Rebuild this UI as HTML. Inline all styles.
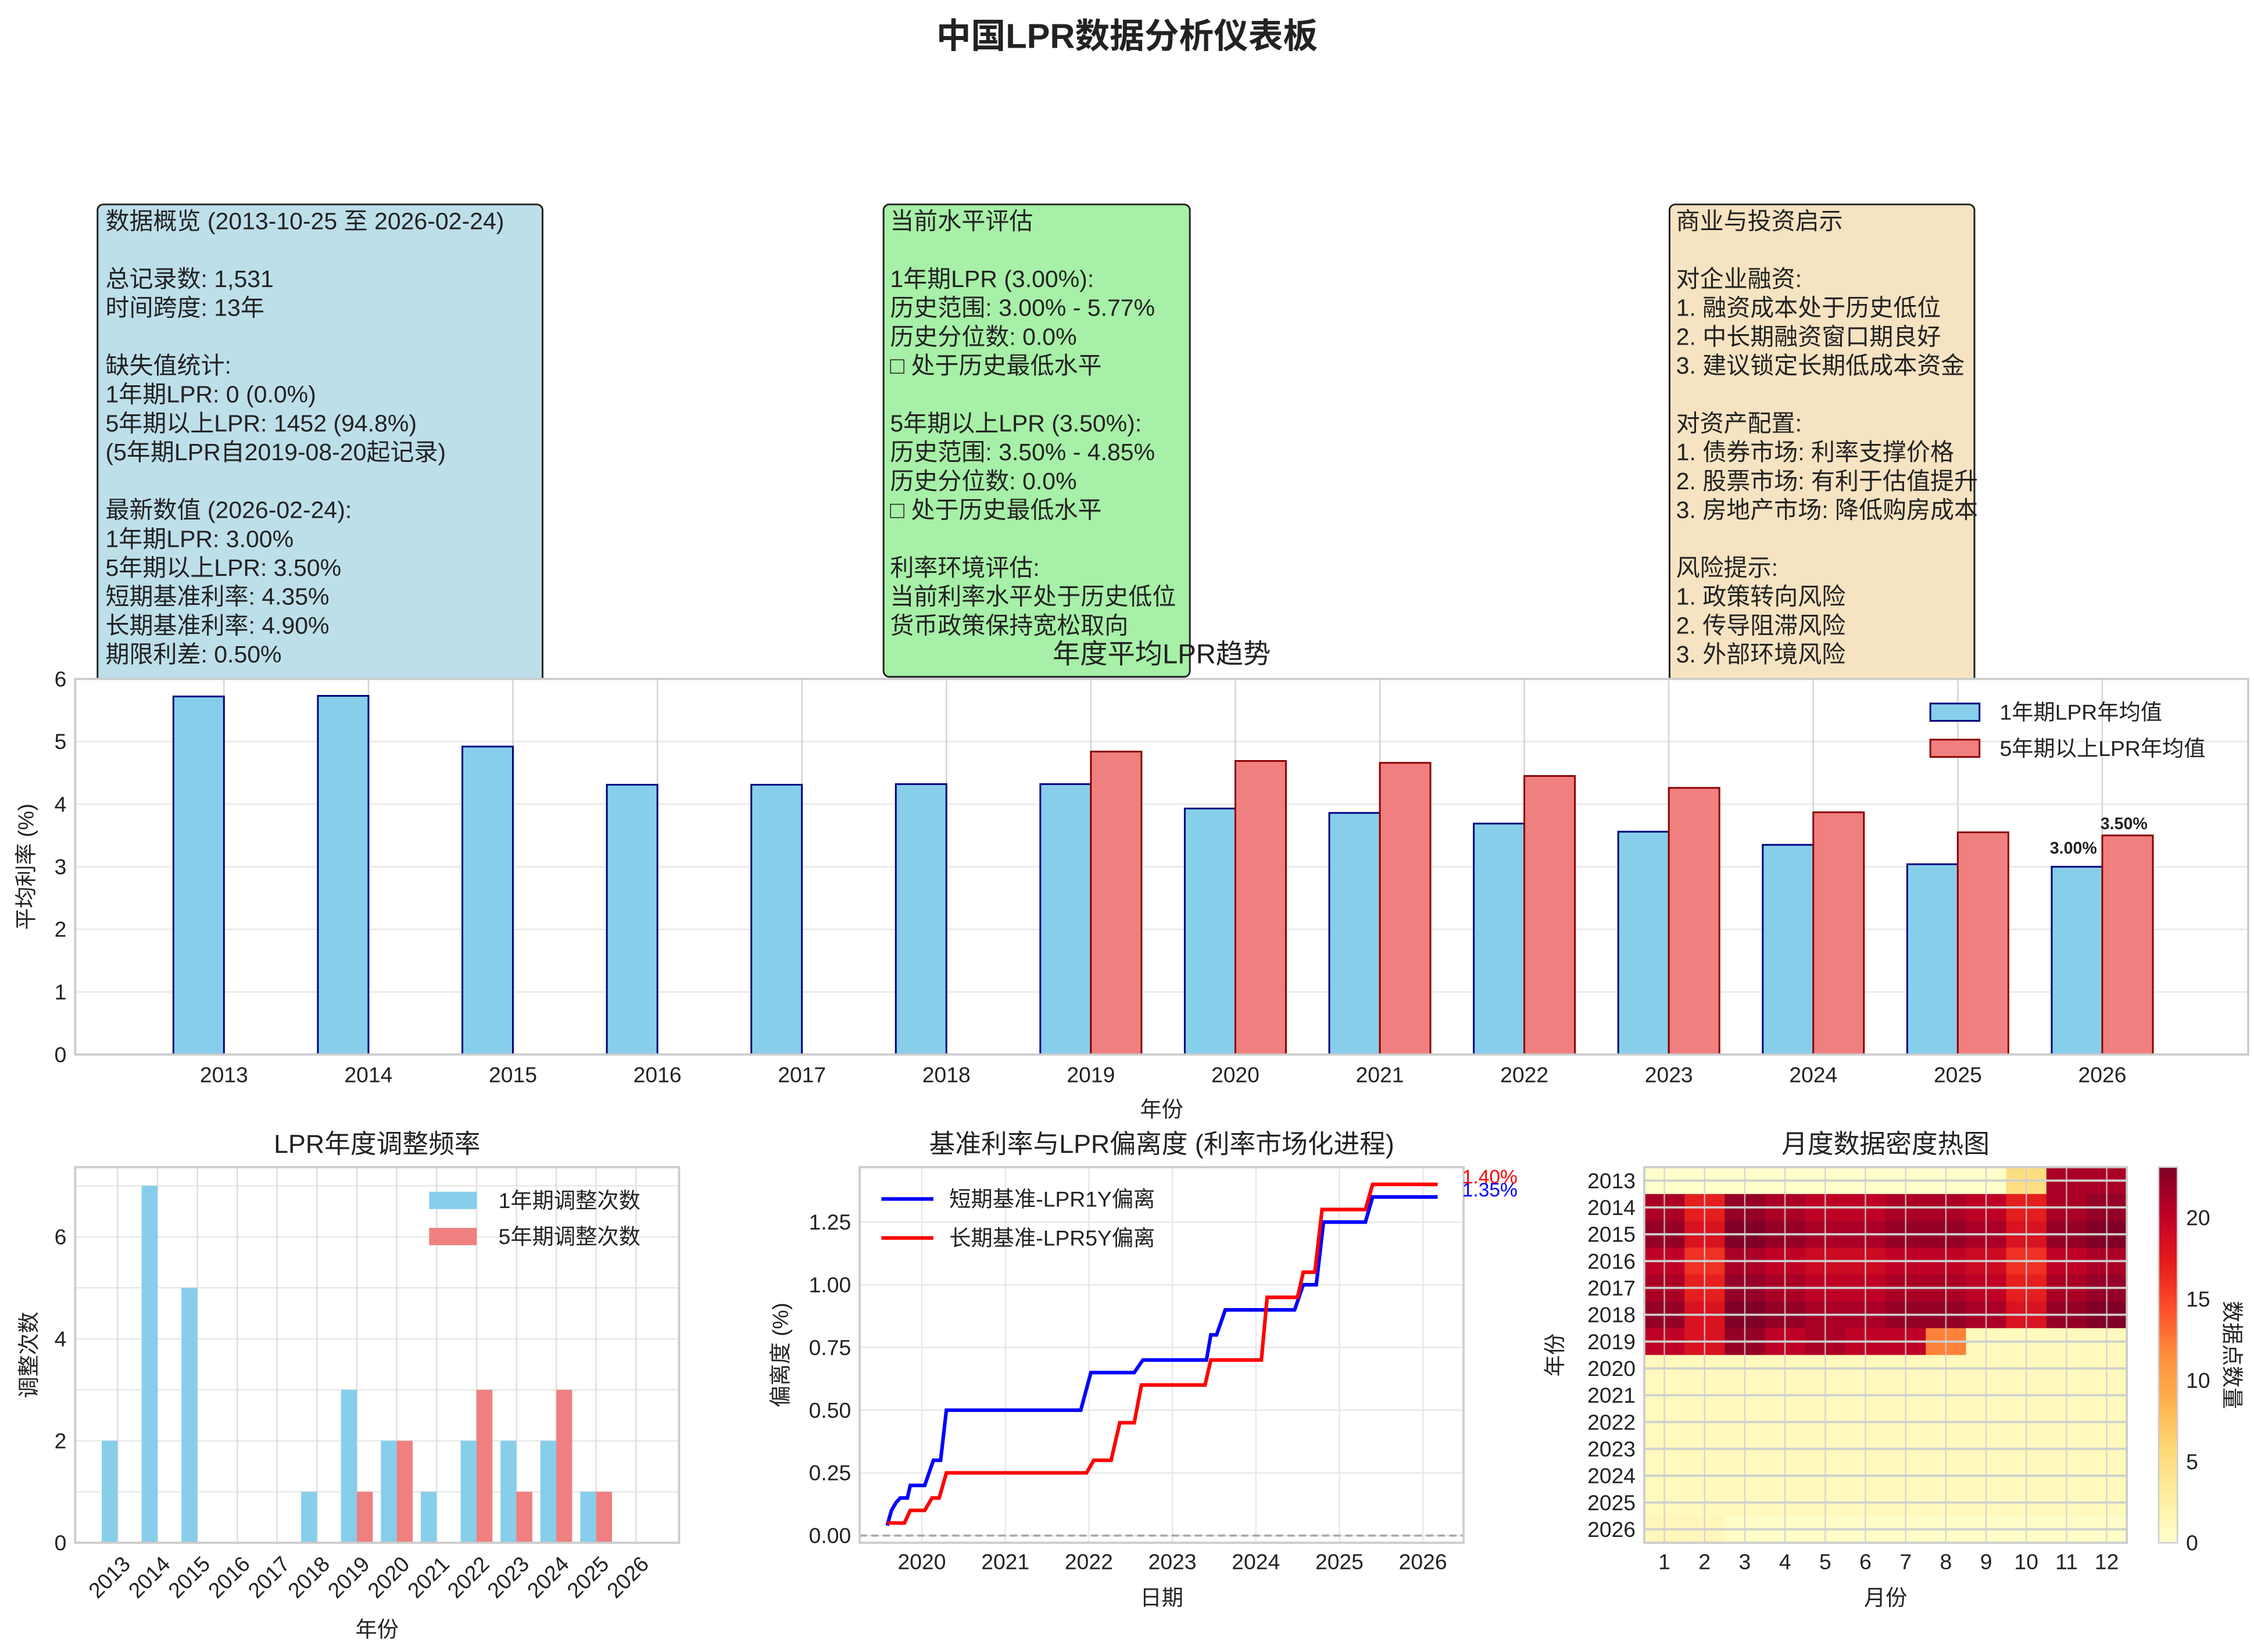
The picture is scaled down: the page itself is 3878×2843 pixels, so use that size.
<!DOCTYPE html>
<html><head><meta charset="utf-8">
<style>
html,body{margin:0;padding:0;background:#fff;}
svg{display:block;}
text{font-family:"Liberation Sans","Noto Sans CJK SC",sans-serif;fill:#222;}
</style></head>
<body>
<svg id="s" width="3878" height="2843" viewBox="0 0 1560 1143.6" xmlns="http://www.w3.org/2000/svg">
<rect width="1560" height="1143.6" fill="#fff"/>
<text x="780" y="25" font-size="24" font-weight="bold" text-anchor="middle" dominant-baseline="central">中国LPR数据分析仪表板</text>

<!-- text boxes -->
<rect x="67.5" y="141.5" width="308" height="345" rx="4" fill="#bddfea" stroke="#222" stroke-width="1.2"/>
<rect x="611.5" y="141.5" width="212" height="327" rx="4" fill="#a7f0a7" stroke="#222" stroke-width="1.2"/>
<rect x="1155.5" y="141.5" width="211" height="345" rx="4" fill="#f6e3c1" stroke="#222" stroke-width="1.2"/>
<g font-size="16.5" dominant-baseline="central">
<text x="73" y="153">数据概览 (2013-10-25 至 2026-02-24)</text>
<text x="73" y="193">总记录数: 1,531</text>
<text x="73" y="213">时间跨度: 13年</text>
<text x="73" y="253">缺失值统计:</text>
<text x="73" y="273">1年期LPR: 0 (0.0%)</text>
<text x="73" y="293">5年期以上LPR: 1452 (94.8%)</text>
<text x="73" y="313">(5年期LPR自2019-08-20起记录)</text>
<text x="73" y="353">最新数值 (2026-02-24):</text>
<text x="73" y="373">1年期LPR: 3.00%</text>
<text x="73" y="393">5年期以上LPR: 3.50%</text>
<text x="73" y="413">短期基准利率: 4.35%</text>
<text x="73" y="433">长期基准利率: 4.90%</text>
<text x="73" y="453">期限利差: 0.50%</text>

<text x="616" y="153">当前水平评估</text>
<text x="616" y="193">1年期LPR (3.00%):</text>
<text x="616" y="213">历史范围: 3.00% - 5.77%</text>
<text x="616" y="233">历史分位数: 0.0%</text>
<text x="616" y="253">□ 处于历史最低水平</text>
<text x="616" y="293">5年期以上LPR (3.50%):</text>
<text x="616" y="313">历史范围: 3.50% - 4.85%</text>
<text x="616" y="333">历史分位数: 0.0%</text>
<text x="616" y="353">□ 处于历史最低水平</text>
<text x="616" y="393">利率环境评估:</text>
<text x="616" y="413">当前利率水平处于历史低位</text>
<text x="616" y="433">货币政策保持宽松取向</text>

<text x="1160" y="153">商业与投资启示</text>
<text x="1160" y="193">对企业融资:</text>
<text x="1160" y="213">1. 融资成本处于历史低位</text>
<text x="1160" y="233">2. 中长期融资窗口期良好</text>
<text x="1160" y="253">3. 建议锁定长期低成本资金</text>
<text x="1160" y="293">对资产配置:</text>
<text x="1160" y="313">1. 债券市场: 利率支撑价格</text>
<text x="1160" y="333">2. 股票市场: 有利于估值提升</text>
<text x="1160" y="353">3. 房地产市场: 降低购房成本</text>
<text x="1160" y="393">风险提示:</text>
<text x="1160" y="413">1. 政策转向风险</text>
<text x="1160" y="433">2. 传导阻滞风险</text>
<text x="1160" y="453">3. 外部环境风险</text>
</g>

<!-- MAIN CHART -->
<rect x="52" y="470" width="1504" height="260" fill="#fff"/>
<g stroke="#e8e8e8" stroke-width="1">
<line x1="52" x2="1556" y1="686.7" y2="686.7"/><line x1="52" x2="1556" y1="643.3" y2="643.3"/>
<line x1="52" x2="1556" y1="600" y2="600"/><line x1="52" x2="1556" y1="556.7" y2="556.7"/>
<line x1="52" x2="1556" y1="513.3" y2="513.3"/>
</g>
<g stroke="#d4d4d4" stroke-width="1" id="vg"></g>
<g id="mb"></g>
<rect x="52" y="470" width="1504" height="260" fill="none" stroke="#ccc" stroke-width="1.5"/>
<text x="804" y="453" font-size="19" text-anchor="middle" dominant-baseline="central">年度平均LPR趋势</text>
<g font-size="15" text-anchor="end" dominant-baseline="central">
<text x="46" y="730">0</text><text x="46" y="686.7">1</text><text x="46" y="643.3">2</text><text x="46" y="600">3</text><text x="46" y="556.7">4</text><text x="46" y="513.3">5</text><text x="46" y="470">6</text>
</g>
<g font-size="15" text-anchor="middle" dominant-baseline="central" id="mx"></g>
<text x="804" y="768" font-size="15" text-anchor="middle" dominant-baseline="central">年份</text>
<text transform="translate(18,600) rotate(-90)" font-size="15" text-anchor="middle" dominant-baseline="central">平均利率 (%)</text>
<text x="1435" y="591" font-size="11.5" font-weight="bold" text-anchor="middle">3.00%</text>
<text x="1470" y="574" font-size="11.5" font-weight="bold" text-anchor="middle">3.50%</text>
<rect x="1336" y="487" width="34" height="12" fill="#87ceeb" stroke="#000080" stroke-width="1.2"/>
<rect x="1336" y="512" width="34" height="12" fill="#f08080" stroke="#8b0000" stroke-width="1.2"/>
<text x="1384" y="493" font-size="15" dominant-baseline="central">1年期LPR年均值</text>
<text x="1384" y="518" font-size="15" dominant-baseline="central">5年期以上LPR年均值</text>

<!-- BOTTOM LEFT -->
<g stroke="#e8e8e8"><line x1="52" x2="470" y1="1032.7" y2="1032.7"/><line x1="52" x2="470" y1="997.4" y2="997.4"/><line x1="52" x2="470" y1="962.1" y2="962.1"/><line x1="52" x2="470" y1="926.8" y2="926.8"/><line x1="52" x2="470" y1="891.5" y2="891.5"/><line x1="52" x2="470" y1="856.2" y2="856.2"/><line x1="52" x2="470" y1="820.9" y2="820.9"/></g>
<g id="bl"></g>
<rect x="52" y="808" width="418" height="260" fill="none" stroke="#ccc" stroke-width="1.5"/>
<text x="261" y="792" font-size="18" text-anchor="middle" dominant-baseline="central">LPR年度调整频率</text>
<g font-size="15" text-anchor="end" dominant-baseline="central">
<text x="46" y="1068">0</text><text x="46" y="997.4">2</text><text x="46" y="926.8">4</text><text x="46" y="856.2">6</text></g>
<text x="261" y="1128" font-size="15" text-anchor="middle" dominant-baseline="central">年份</text>
<text transform="translate(20,938) rotate(-90)" font-size="15" text-anchor="middle" dominant-baseline="central">调整次数</text>
<rect x="297" y="825" width="33" height="12" fill="#87ceeb"/>
<rect x="297" y="850" width="33" height="12" fill="#f08080"/>
<text x="345" y="831" font-size="15" dominant-baseline="central">1年期调整次数</text>
<text x="345" y="856" font-size="15" dominant-baseline="central">5年期调整次数</text>

<!-- BOTTOM MIDDLE -->
<g stroke="#e8e8e8"><line x1="595" x2="1013" y1="1019.6" y2="1019.6"/><line x1="595" x2="1013" y1="976.2" y2="976.2"/><line x1="595" x2="1013" y1="932.8" y2="932.8"/><line x1="595" x2="1013" y1="889.4" y2="889.4"/><line x1="595" x2="1013" y1="846" y2="846"/><line x1="595" x2="1013" y1="1063" y2="1063"/></g>
<g stroke="#e8e8e8"><line x1="638" x2="638" y1="808" y2="1068"/><line x1="695.8" x2="695.8" y1="808" y2="1068"/><line x1="753.6" x2="753.6" y1="808" y2="1068"/><line x1="811.4" x2="811.4" y1="808" y2="1068"/><line x1="869.2" x2="869.2" y1="808" y2="1068"/><line x1="927" x2="927" y1="808" y2="1068"/><line x1="984.8" x2="984.8" y1="808" y2="1068"/></g>
<line x1="595" x2="1013" y1="1063" y2="1063" stroke="#aaa" stroke-width="1.5" stroke-dasharray="5,3"/>
<polyline fill="none" stroke="#0000ff" stroke-width="2.5" points="614,1056.1 617,1045.6 620,1040.4 623,1037 628,1037 630,1028.3 640,1028.3 646,1010.9 651,1010.9 655,976.2 748,976.2 755,950.2 785,950.2 791,941.5 835,941.5 838,924.1 842,924.1 848,906.8 896,906.8 902,889.4 911,889.4 916,846 945,846 950,828.6 995,828.6"/>
<polyline fill="none" stroke="#ff0000" stroke-width="2.5" points="614,1054.3 626,1054.3 630,1045.6 640,1045.6 645,1037 650,1037 655,1019.6 752,1019.6 757,1010.9 769,1010.9 775,984.9 785,984.9 790,958.8 834,958.8 838,941.5 873,941.5 877,898.1 898,898.1 902,880.7 910,880.7 915,837.3 945,837.3 950,819.9 995,819.9"/>
<rect x="595" y="808" width="418" height="260" fill="none" stroke="#ccc" stroke-width="1.5"/>
<text x="804" y="792" font-size="18" text-anchor="middle" dominant-baseline="central">基准利率与LPR偏离度 (利率市场化进程)</text>
<g font-size="15" text-anchor="end" dominant-baseline="central">
<text x="589" y="1063">0.00</text><text x="589" y="1019.6">0.25</text><text x="589" y="976.2">0.50</text><text x="589" y="932.8">0.75</text><text x="589" y="889.4">1.00</text><text x="589" y="846">1.25</text></g>
<g font-size="15" text-anchor="middle" dominant-baseline="central">
<text x="638" y="1081">2020</text><text x="695.8" y="1081">2021</text><text x="753.6" y="1081">2022</text><text x="811.4" y="1081">2023</text><text x="869.2" y="1081">2024</text><text x="927" y="1081">2025</text><text x="984.8" y="1081">2026</text></g>
<text x="804" y="1106" font-size="15" text-anchor="middle" dominant-baseline="central">日期</text>
<text transform="translate(540,938) rotate(-90)" font-size="15" text-anchor="middle" dominant-baseline="central">偏离度 (%)</text>
<text x="1012" y="815" font-size="13.5" style="fill:#ff0000" dominant-baseline="central">1.40%</text>
<text x="1012" y="824" font-size="13.5" style="fill:#0000ff" dominant-baseline="central">1.35%</text>
<line x1="610" x2="646" y1="830" y2="830" stroke="#0000ff" stroke-width="2.5"/>
<line x1="610" x2="646" y1="857" y2="857" stroke="#ff0000" stroke-width="2.5"/>
<text x="657" y="830" font-size="15" dominant-baseline="central">短期基准-LPR1Y偏离</text>
<text x="657" y="857" font-size="15" dominant-baseline="central">长期基准-LPR5Y偏离</text>

<!-- HEATMAP -->
<g id="hm"></g>
<rect x="1138" y="808" width="334" height="260" fill="none" stroke="#ccc" stroke-width="1.5"/>
<text x="1305" y="792" font-size="18" text-anchor="middle" dominant-baseline="central">月度数据密度热图</text>
<text x="1305" y="1106" font-size="15" text-anchor="middle" dominant-baseline="central">月份</text>
<text transform="translate(1076,938) rotate(-90)" font-size="15" text-anchor="middle" dominant-baseline="central">年份</text>
<defs><linearGradient id="cb" x1="0" y1="1" x2="0" y2="0">
<stop offset="0" stop-color="#ffffcc"/><stop offset="0.125" stop-color="#ffeda0"/><stop offset="0.25" stop-color="#fed976"/><stop offset="0.375" stop-color="#feb24c"/><stop offset="0.5" stop-color="#fd8d3c"/><stop offset="0.625" stop-color="#fc4e2a"/><stop offset="0.75" stop-color="#e31a1c"/><stop offset="0.875" stop-color="#bd0026"/><stop offset="1" stop-color="#800026"/></linearGradient></defs>
<rect x="1494" y="808" width="13" height="260" fill="url(#cb)" stroke="#ccc" stroke-width="1"/>
<g font-size="15" dominant-baseline="central">
<text x="1513" y="1068">0</text><text x="1513" y="1011.8">5</text><text x="1513" y="955.5">10</text><text x="1513" y="899.3">15</text><text x="1513" y="843">20</text></g>
<text transform="translate(1545,938) rotate(90)" font-size="15" text-anchor="middle" dominant-baseline="central">数据点数量</text>
</svg>
<script>
var NS="http://www.w3.org/2000/svg";
function el(p,t,a,txt){var e=document.createElementNS(NS,t);for(var k in a)e.setAttribute(k,a[k]);if(txt!=null)e.textContent=txt;document.getElementById(p).appendChild(e);return e;}
var b1=[5.72,5.73,4.92,4.31,4.31,4.32,4.32,3.93,3.86,3.69,3.56,3.35,3.04,3.00];
var b5=[null,null,null,null,null,null,4.84,4.69,4.66,4.45,4.26,3.87,3.55,3.50];
for(var i=0;i<14;i++){var c=155+100*i;
 el("vg","line",{x1:c,x2:c,y1:470,y2:730});
 el("mx","text",{x:c,y:744},String(2013+i));
 var y=730-43.333*b1[i];
 el("mb","rect",{x:c-35,y:y,width:35,height:730-y,fill:"#87ceeb",stroke:"#000080","stroke-width":1.2});
 if(b5[i]!=null){y=730-43.333*b5[i];el("mb","rect",{x:c,y:y,width:35,height:730-y,fill:"#f08080",stroke:"#8b0000","stroke-width":1.2});}
}
var a1=[2,7,5,0,0,1,3,2,1,2,2,2,1,0], a5=[0,0,0,0,0,0,1,2,0,3,1,3,1,0];
for(i=0;i<14;i++){var c=81.4+27.6*i;
 el("bl","line",{x1:c,x2:c,y1:808,y2:1068,stroke:"#e0e0e0"});
 if(a1[i])el("bl","rect",{x:c-11,y:1068-35.3*a1[i],width:11,height:35.3*a1[i],fill:"#87ceeb"});
 if(a5[i])el("bl","rect",{x:c,y:1068-35.3*a5[i],width:11,height:35.3*a5[i],fill:"#f08080"});
 el("bl","text",{x:c+6,y:1080,"font-size":15,"text-anchor":"end","dominant-baseline":"central",transform:"rotate(-45 "+(c+6)+" 1080)"},String(2013+i));
}
var stops=["#ffffcc","#ffeda0","#fed976","#feb24c","#fd8d3c","#fc4e2a","#e31a1c","#bd0026","#800026"];
function hx(h){return [parseInt(h.substr(1,2),16),parseInt(h.substr(3,2),16),parseInt(h.substr(5,2),16)];}
function cmap(v){var t=Math.max(0,Math.min(1,v/23))*8;var k=Math.min(7,Math.floor(t));var f=t-k;var a=hx(stops[k]),b=hx(stops[k+1]);
 return "rgb("+a.map(function(x,j){return Math.round(x+(b[j]-x)*f);}).join(",")+")";}
var colBase=[21,17,22,21,20,20,21,21,20,17,21,22];
var M=[];
for(var r=0;r<14;r++){M.push([]);for(var c2=0;c2<12;c2++){
 var v;
 if(r==0){v=c2<9?0:(c2==9?5:21);}
 else if(r>=1&&r<=5){v=colBase[c2]+((r*7+c2*3)%3)-1;}
 else if(r==6){v=c2<7?colBase[c2]+((c2*5)%3)-1:(c2==7?12:1);}
 else if(r==13){v=c2<2?1.2:0.3;}
 else v=1;
 M[r].push(v);}}
var cw=334/12, rh=260/14;
for(r=0;r<14;r++)for(c2=0;c2<12;c2++)el("hm","rect",{x:1138+cw*c2,y:808+rh*r,width:cw+0.5,height:rh+0.5,fill:cmap(M[r][c2])});
for(c2=0;c2<12;c2++){var cx=1138+cw*(c2+0.5);el("hm","line",{x1:cx,x2:cx,y1:808,y2:1068,stroke:"#cfcfcf","stroke-width":1,opacity:0.8});
 el("hm","text",{x:cx,y:1081,"font-size":15,"text-anchor":"middle","dominant-baseline":"central"},String(c2+1));}
for(r=0;r<14;r++){var cy=808+rh*(r+0.5);el("hm","line",{x1:1138,x2:1472,y1:cy,y2:cy,stroke:"#cfcfcf","stroke-width":1.5});
 el("hm","text",{x:1132,y:cy,"font-size":15,"text-anchor":"end","dominant-baseline":"central"},String(2013+r));}
</script>
</body></html>
